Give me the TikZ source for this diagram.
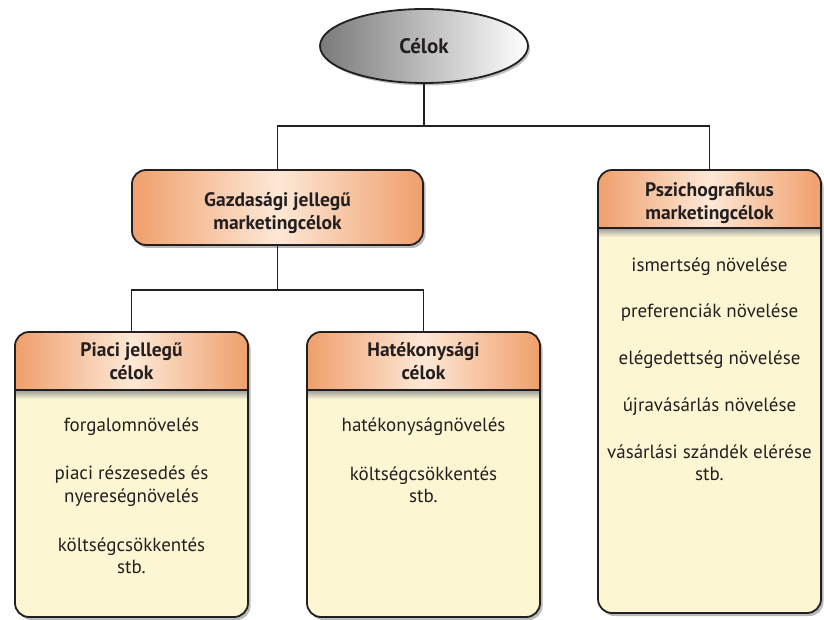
\documentclass[tikz,border=0pt]{standalone}
\usepackage{fontspec}
\setmainfont{PT Sans}
\usetikzlibrary{shapes.geometric,shadows}
\definecolor{hdr}{HTML}{EF9F6C}
\definecolor{hdrlight}{HTML}{FDE8D6}
\definecolor{bodyc}{HTML}{FCF6D3}
\definecolor{ink}{HTML}{231F20}
\definecolor{ellg}{HTML}{7A7A7A}
\tikzset{
  border/.style={draw=ink, line width=1.8pt},
  conn/.style={draw=ink, line width=1.4pt},
  hdrshade/.style={left color=hdr, right color=hdr, middle color=hdrlight},
  bodyfill/.style={fill=bodyc, drop shadow={shadow xshift=2.5pt, shadow yshift=-3pt, opacity=0.55}},
  htext/.style={font=\fontsize{19.5}{22.5}\selectfont\bfseries, text=ink, align=center},
  btext/.style={font=\fontsize{19}{22.5}\selectfont, text=ink, align=center},
}
\begin{document}
\begin{tikzpicture}[x=1pt,y=-1pt]
\useasboundingbox (0,0) rectangle (824,620);
\fill[white] (0,0) rectangle (824,620);

% Top ellipse
\node[ellipse, minimum width=208pt, minimum height=74pt, border,
      left color=ellg, right color=white,
      drop shadow={shadow xshift=2pt, shadow yshift=-2.5pt, opacity=0.5},
      htext, font=\fontsize{21}{24}\selectfont\bfseries] (cel) at (424,46) {Célok};

% Gazdasagi box
\node[rectangle, rounded corners=14pt, minimum width=291pt, minimum height=75pt, border,
      hdrshade, drop shadow={shadow xshift=2.5pt, shadow yshift=-3pt, opacity=0.55}] (gazd) at (277.5,207.5) {};
\node[htext] (gazdt) at (277.5,213) {Gazdasági jellegű\\marketingcélok};

% Lower/column boxes
\newcommand{\colbox}[6]{% name, x1, y1, x2, y2, yh
  \fill[bodyfill, rounded corners=14pt] (#2,#3) rectangle (#4,#5);
  \begin{scope}
    \clip[rounded corners=14pt] (#2,#3) rectangle (#4,#5);
    \shade[hdrshade] (#2,#3) rectangle (#4,#6);
    \shade[top color=black!40, bottom color=bodyc] (#2,#6) rectangle (#4,#6+9);
  \end{scope}
  \draw[border, rounded corners=14pt] (#2,#3) rectangle (#4,#5);
  \draw[border] (#2,#6) -- (#4,#6);
  \coordinate (#1top) at ({(#2+#4)/2},#3);
}

\colbox{piaci}{15}{332}{248}{617}{390}
\colbox{hatek}{307}{332}{540}{617}{390}
\colbox{pszi}{598}{170}{821}{613}{228}

% Header texts
\node[htext] (piacih) at (131.5,361) {Piaci jellegű\\célok};
\node[htext] (hatekh) at (423.5,361) {Hatékonysági\\célok};
\node[htext] (psziha) at (709.5,203) {Pszichografikus\\marketingcélok};

% Body texts
\node[btext] (p1) at (131.5,427) {forgalomnövelés};
\node[btext] (p2) at (131.5,486) {piaci részesedés és\\nyereségnövelés};
\node[btext] (p3) at (131.5,556) {költségcsökkentés\\stb.};

\node[btext] (h1) at (423.5,427) {hatékonyságnövelés};
\node[btext] (h2) at (423.5,485) {költségcsökkentés\\stb.};

\node[btext] (s1) at (709.5,267) {ismertség növelése};
\node[btext] (s2) at (709.5,313) {preferenciák növelése};
\node[btext] (s3) at (709.5,360) {elégedettség növelése};
\node[btext] (s4) at (709.5,407) {újravásárlás növelése};
\node[btext] (s5) at (709.5,463) {vásárlási szándék elérése\\stb.};

% Connectors
\coordinate (j1) at (424,126);
\coordinate (j2) at (277.5,290);
\draw[conn] (cel.south) -- (j1);
\draw[conn] (j1) -| (gazd.north);
\draw[conn] (j1) -| (pszitop);
\draw[conn] (gazd.south) -- (j2);
\draw[conn] (j2) -| (piacitop);
\draw[conn] (j2) -| (hatektop);
\end{tikzpicture}
\end{document}
